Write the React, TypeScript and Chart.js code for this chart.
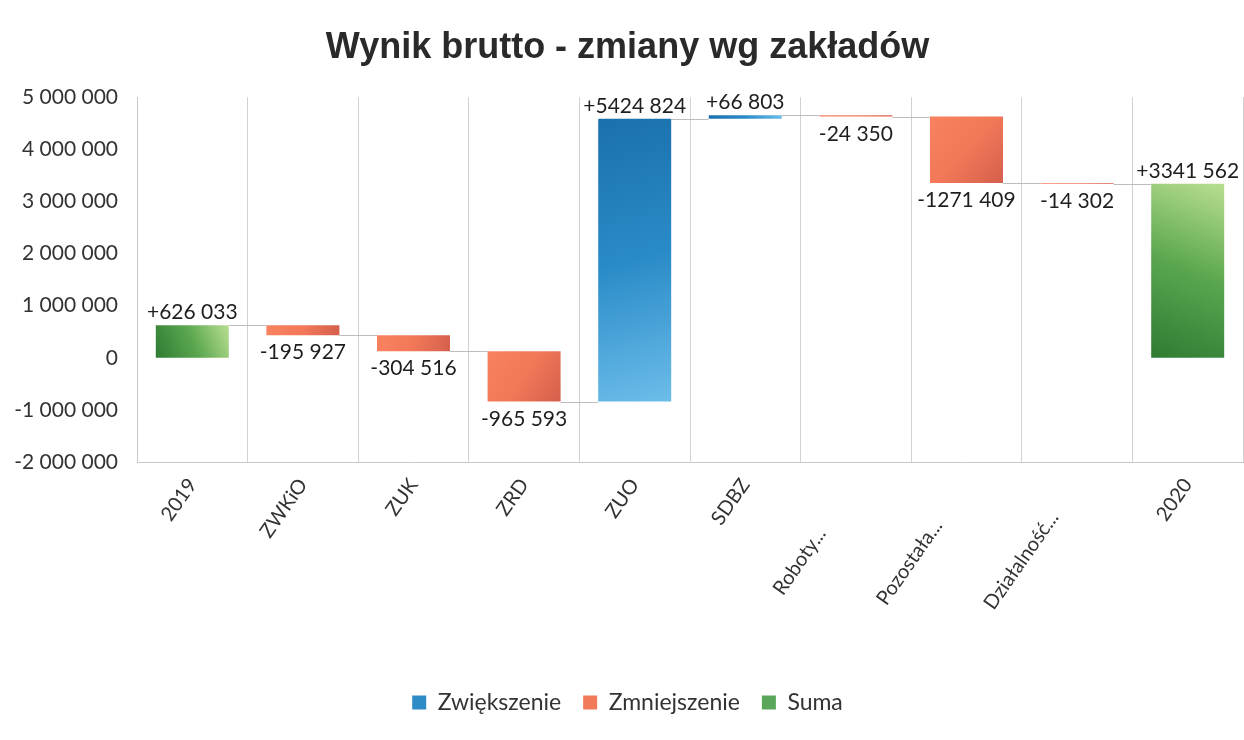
import { useEffect, useRef } from "react";
import { Chart, registerables } from "chart.js";

Chart.register(...registerables);

// ---- data ----
const categories = ["2019", "ZWKiO", "ZUK", "ZRD", "ZUO", "SDBZ", "Roboty...", "Pozostała...", "Działalność...", "2020"];
const changes = [626033, -195927, -304516, -965593, 5424824, 66803, -24350, -1271409, -14302, 3341562];
const kinds = ["sum", "dec", "dec", "dec", "inc", "inc", "dec", "dec", "dec", "sum"];
const seriesNames = ["Zwiększenie", "Zmniejszenie", "Suma"];
const yMin = -2000000;
const yMax = 5000000;
const yStep = 1000000;
const titleText = "Wynik brutto - zmiany wg zakładów";

// ---- styles ----
const labelPad = [0, 0, 0, 0, 0, 0, 6, 5, 4, 0];
const legendColors = { inc: "#2d8bc6", dec: "#f07a5a", sum: "#5aa75b" };
const gradStops: Record<string, string[]> = {
  inc: ["#1a70ad", "#2a8bc8", "#6cbde9"],
  dec: ["#f8825f", "#f27858", "#d45f4c"],
  sum: ["#2f7b33", "#5aa64f", "#b9df91"],
};

// waterfall ranges built from the changes
const ranges: [number, number][] = [];
{
  let run = 0;
  changes.forEach((d, i) => {
    if (kinds[i] === "sum") {
      ranges.push([0, d]);
      run = d;
    } else {
      ranges.push([run, run + d]);
      run = run + d;
    }
  });
}

const fmtSpaces = (v: number) => {
  const s = String(Math.abs(v)).replace(/\B(?=(\d{3})+(?!\d))/g, " ");
  return (v < 0 ? "-" : "") + s;
};
const fmtDelta = (v: number) => {
  const a = Math.abs(v);
  const body = a >= 1000 ? Math.floor(a / 1000) + " " + String(a % 1000).padStart(3, "0") : String(a);
  return (v < 0 ? "-" : "+") + body;
};

const LABEL_FONT = "21px Lato";

const gradientPlugin = {
  id: "barGradients",
  beforeDatasetsDraw(chart: any) {
    const ctx = chart.ctx;
    chart.data.datasets.forEach((ds: any, di: number) => {
      const meta = chart.getDatasetMeta(di);
      const stops = gradStops[ds.kind];
      meta.data.forEach((el: any, i: number) => {
        if (ds.data[i] == null || !el.options) return;
        const left = el.x - el.width / 2;
        const right = el.x + el.width / 2;
        const top = Math.min(el.y, el.base);
        const bottom = Math.max(el.y, el.base);
        let g;
        if (ds.kind === "sum") g = ctx.createLinearGradient(left, bottom, right, top);
        else g = ctx.createLinearGradient(left, top, right, bottom);
        g.addColorStop(0, stops[0]);
        g.addColorStop(0.5, stops[1]);
        g.addColorStop(1, stops[2]);
        el.options.backgroundColor = g;
      });
    });
  },
};

const annotPlugin = {
  id: "waterfallAnnotations",
  afterDatasetsDraw(chart: any) {
    const ctx = chart.ctx;
    const x = chart.scales.x;
    const y = chart.scales.y;
    const half = (x.getPixelForValue(1) - x.getPixelForValue(0)) * 0.66 / 2;
    ctx.save();
    // connectors
    ctx.strokeStyle = "#bdbdbd";
    ctx.lineWidth = 1;
    for (let i = 0; i < categories.length - 1; i++) {
      const level = ranges[i][1];
      const py = Math.round(y.getPixelForValue(level)) + 0.5;
      ctx.beginPath();
      ctx.moveTo(x.getPixelForValue(i) + half, py);
      ctx.lineTo(x.getPixelForValue(i + 1) - half, py);
      ctx.stroke();
    }
    // value labels
    ctx.font = LABEL_FONT;
    ctx.fillStyle = "#1e1e1e";
    ctx.textAlign = "center";
    ctx.textBaseline = "alphabetic";
    changes.forEach((d, i) => {
      const cx = x.getPixelForValue(i);
      const hi = Math.max(ranges[i][0], ranges[i][1]);
      const lo = Math.min(ranges[i][0], ranges[i][1]);
      if (d >= 0) {
        ctx.fillText(fmtDelta(d), cx, y.getPixelForValue(hi) - 6);
      } else {
        ctx.fillText(fmtDelta(d), cx, y.getPixelForValue(lo) + 24);
      }
    });
    ctx.restore();
  },
};

export default function App() {
  const ref = useRef<HTMLCanvasElement | null>(null);
  useEffect(() => {
    if (!ref.current) return;
    const mk = (kind: string, label: string) => ({
      label,
      kind,
      data: categories.map((_, i) => (kinds[i] === kind ? ranges[i] : null)),
      backgroundColor: () => (legendColors as any)[kind],
      borderWidth: 0,
      grouped: false,
      barPercentage: 0.66,
      categoryPercentage: 1,
    });
    const chart = new Chart(ref.current, {
      type: "bar",
      data: {
        labels: categories,
        datasets: [mk("inc", seriesNames[0]), mk("dec", seriesNames[1]), mk("sum", seriesNames[2])] as any,
      },
      options: {
        animation: false,
        responsive: true,
        maintainAspectRatio: false,
        layout: { padding: { left: 12, right: 1, top: 0, bottom: 16 } },
        plugins: {
          title: {
            display: true,
            text: titleText,
            color: "#2a2a2a",
            font: { family: "Liberation Sans", size: 36, weight: "bold" },
            padding: { top: 26, bottom: 28 },
          },
          legend: {
            position: "bottom",
            labels: {
              color: "#333333",
              font: { family: "Lato", size: 23 },
              boxWidth: 14,
              boxHeight: 14,
              padding: 22,
            },
          },
          tooltip: { enabled: false },
        },
        scales: {
          x: {
            offset: true,
            grid: { display: true, offset: true, color: "#d2d2d2", drawTicks: false },
            border: { display: true, color: "#c8c8c8" },
            ticks: {
              color: "#333333",
              font: { family: "Lato", size: 20 },
              maxRotation: 55,
              minRotation: 55,
              padding: 12,
              autoSkip: false,
              callback: (_v: any, i: number) => categories[i] + "\u2002".repeat(labelPad[i]),
            },
            afterFit: (s: any) => {
              s.height = 207;
            },
          },
          y: {
            min: yMin,
            max: yMax,
            grid: { display: false, drawTicks: false },
            border: { display: true, color: "#c8c8c8" },
            ticks: {
              stepSize: yStep,
              color: "#333333",
              font: { family: "Lato", size: 21 },
              padding: 19,
              callback: (v: any) => fmtSpaces(Number(v)),
            },
            afterFit: (s: any) => {
              s.width = 125;
            },
          },
        },
      } as any,
      plugins: [gradientPlugin, annotPlugin],
    });
    return () => chart.destroy();
  }, []);
  return (
    <div style={{ position: "absolute", left: 0, top: 0, width: 1244, height: 740, background: "#fff" }}>
      <canvas ref={ref} />
    </div>
  );
}
